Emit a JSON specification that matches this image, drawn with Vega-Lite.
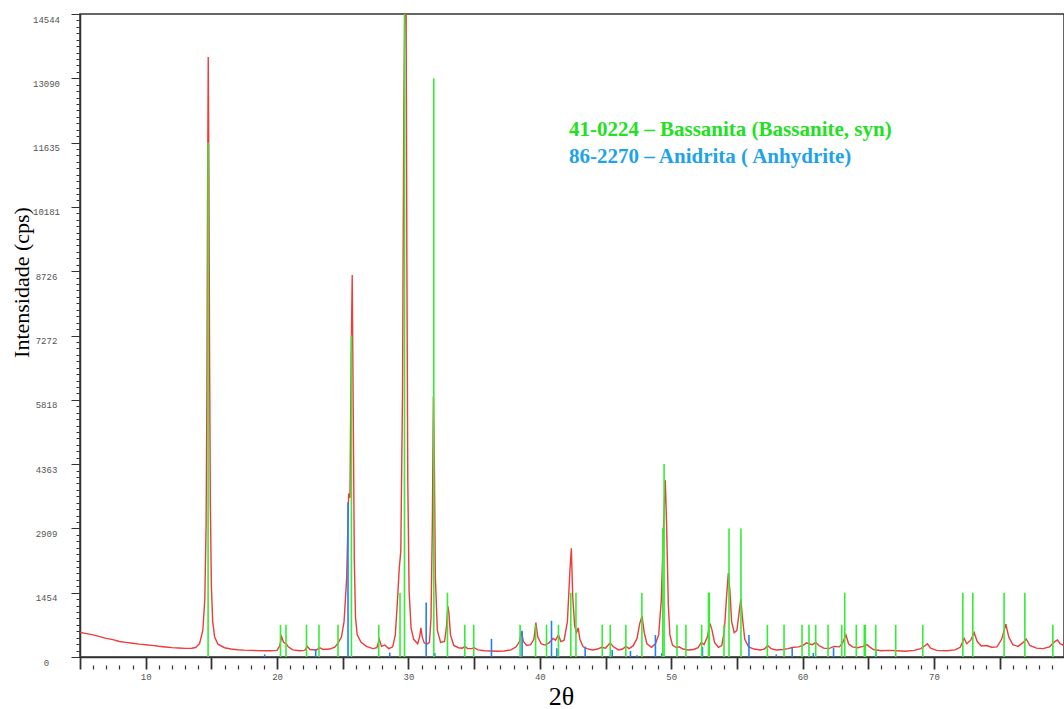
{
"$schema": "https://vega.github.io/schema/vega-lite/v6.json",
"width": 984, "height": 643,
"autosize": "none",
"padding": {"left": 80, "top": 14, "right": 0, "bottom": 52},
"background": "white",
"config": {"view": {"stroke": "#333", "strokeWidth": 1.5}, "axis": {"grid": false}},
"datasets": {
"xrd": [
{"theta":5.0,"cps":560},{"theta":5.3,"cps":540},{"theta":5.6,"cps":522},{"theta":6.0,"cps":500},{"theta":6.5,"cps":462},{"theta":7.0,"cps":420},{"theta":7.5,"cps":392},{"theta":8.0,"cps":352},{"theta":8.5,"cps":332},{"theta":9.0,"cps":312},{"theta":9.5,"cps":290},{"theta":10.0,"cps":276},{"theta":10.5,"cps":262},{"theta":11.0,"cps":242},{"theta":11.5,"cps":226},{"theta":12.0,"cps":212},{"theta":12.5,"cps":202},{"theta":13.0,"cps":195},{"theta":13.5,"cps":198},{"theta":13.8,"cps":215},{"theta":14.1,"cps":300},{"theta":14.35,"cps":600},{"theta":14.5,"cps":1300},{"theta":14.6,"cps":3000},{"theta":14.66,"cps":6000},{"theta":14.71,"cps":10500},{"theta":14.76,"cps":13570},{"theta":14.81,"cps":11000},{"theta":14.86,"cps":7000},{"theta":14.92,"cps":3500},{"theta":15.0,"cps":1600},{"theta":15.1,"cps":800},{"theta":15.25,"cps":450},{"theta":15.5,"cps":290},{"theta":16.0,"cps":210},{"theta":16.5,"cps":180},{"theta":17.0,"cps":165},{"theta":17.5,"cps":155},{"theta":18.0,"cps":150},{"theta":18.5,"cps":145},{"theta":19.0,"cps":140},{"theta":19.5,"cps":142},{"theta":20.0,"cps":150},{"theta":20.2,"cps":250},{"theta":20.35,"cps":460},{"theta":20.5,"cps":330},{"theta":20.7,"cps":300},{"theta":20.85,"cps":230},{"theta":21.2,"cps":160},{"theta":21.7,"cps":140},{"theta":22.1,"cps":150},{"theta":22.3,"cps":240},{"theta":22.5,"cps":170},{"theta":23.0,"cps":160},{"theta":23.25,"cps":210},{"theta":23.5,"cps":170},{"theta":24.0,"cps":180},{"theta":24.4,"cps":220},{"theta":24.65,"cps":320},{"theta":24.9,"cps":450},{"theta":25.1,"cps":800},{"theta":25.3,"cps":1800},{"theta":25.45,"cps":3700},{"theta":25.55,"cps":3600},{"theta":25.63,"cps":6500},{"theta":25.72,"cps":8640},{"theta":25.8,"cps":5500},{"theta":25.88,"cps":2200},{"theta":25.97,"cps":900},{"theta":26.1,"cps":500},{"theta":26.4,"cps":330},{"theta":26.8,"cps":240},{"theta":27.3,"cps":190},{"theta":27.6,"cps":210},{"theta":27.78,"cps":400},{"theta":27.95,"cps":240},{"theta":28.2,"cps":270},{"theta":28.5,"cps":190},{"theta":28.8,"cps":230},{"theta":29.0,"cps":500},{"theta":29.15,"cps":1200},{"theta":29.3,"cps":2000},{"theta":29.42,"cps":2400},{"theta":29.55,"cps":6000},{"theta":29.65,"cps":12500},{"theta":29.75,"cps":15500},{"theta":29.82,"cps":15000},{"theta":29.88,"cps":9000},{"theta":29.95,"cps":4000},{"theta":30.05,"cps":1500},{"theta":30.2,"cps":650},{"theta":30.4,"cps":400},{"theta":30.7,"cps":300},{"theta":30.85,"cps":450},{"theta":30.95,"cps":660},{"theta":31.05,"cps":450},{"theta":31.2,"cps":320},{"theta":31.4,"cps":290},{"theta":31.6,"cps":330},{"theta":31.72,"cps":900},{"theta":31.82,"cps":3000},{"theta":31.9,"cps":5900},{"theta":31.97,"cps":4500},{"theta":32.05,"cps":1800},{"theta":32.2,"cps":600},{"theta":32.45,"cps":330},{"theta":32.75,"cps":350},{"theta":32.9,"cps":700},{"theta":33.0,"cps":1150},{"theta":33.08,"cps":1000},{"theta":33.2,"cps":500},{"theta":33.45,"cps":260},{"theta":33.8,"cps":210},{"theta":34.1,"cps":200},{"theta":34.3,"cps":240},{"theta":34.5,"cps":190},{"theta":34.8,"cps":190},{"theta":35.0,"cps":210},{"theta":35.3,"cps":160},{"theta":35.8,"cps":140},{"theta":36.3,"cps":135},{"theta":36.8,"cps":130},{"theta":37.3,"cps":135},{"theta":37.8,"cps":160},{"theta":38.2,"cps":230},{"theta":38.45,"cps":350},{"theta":38.6,"cps":580},{"theta":38.75,"cps":350},{"theta":39.0,"cps":260},{"theta":39.3,"cps":280},{"theta":39.55,"cps":400},{"theta":39.7,"cps":780},{"theta":39.85,"cps":450},{"theta":40.1,"cps":300},{"theta":40.4,"cps":270},{"theta":40.7,"cps":320},{"theta":41.0,"cps":420},{"theta":41.2,"cps":380},{"theta":41.42,"cps":500},{"theta":41.6,"cps":350},{"theta":41.85,"cps":380},{"theta":42.1,"cps":800},{"theta":42.3,"cps":2000},{"theta":42.4,"cps":2460},{"theta":42.5,"cps":1400},{"theta":42.65,"cps":700},{"theta":42.8,"cps":550},{"theta":42.92,"cps":660},{"theta":43.05,"cps":400},{"theta":43.3,"cps":230},{"theta":43.6,"cps":190},{"theta":44.0,"cps":160},{"theta":44.4,"cps":180},{"theta":44.7,"cps":220},{"theta":45.0,"cps":200},{"theta":45.35,"cps":320},{"theta":45.6,"cps":230},{"theta":46.0,"cps":160},{"theta":46.3,"cps":180},{"theta":46.55,"cps":240},{"theta":46.8,"cps":190},{"theta":47.1,"cps":250},{"theta":47.4,"cps":420},{"theta":47.6,"cps":750},{"theta":47.78,"cps":930},{"theta":47.95,"cps":550},{"theta":48.15,"cps":300},{"theta":48.5,"cps":220},{"theta":48.8,"cps":300},{"theta":49.05,"cps":500},{"theta":49.25,"cps":1300},{"theta":49.4,"cps":2800},{"theta":49.55,"cps":4000},{"theta":49.65,"cps":3000},{"theta":49.78,"cps":1200},{"theta":49.9,"cps":500},{"theta":50.1,"cps":270},{"theta":50.4,"cps":210},{"theta":50.6,"cps":230},{"theta":50.9,"cps":180},{"theta":51.3,"cps":160},{"theta":51.7,"cps":170},{"theta":52.05,"cps":210},{"theta":52.3,"cps":330},{"theta":52.5,"cps":280},{"theta":52.75,"cps":450},{"theta":52.95,"cps":760},{"theta":53.1,"cps":620},{"theta":53.3,"cps":330},{"theta":53.6,"cps":220},{"theta":53.85,"cps":260},{"theta":54.05,"cps":600},{"theta":54.2,"cps":1300},{"theta":54.35,"cps":1900},{"theta":54.47,"cps":1500},{"theta":54.6,"cps":800},{"theta":54.8,"cps":550},{"theta":55.0,"cps":600},{"theta":55.15,"cps":950},{"theta":55.3,"cps":1310},{"theta":55.42,"cps":900},{"theta":55.6,"cps":400},{"theta":55.9,"cps":230},{"theta":56.3,"cps":180},{"theta":56.8,"cps":160},{"theta":57.1,"cps":180},{"theta":57.35,"cps":260},{"theta":57.6,"cps":190},{"theta":58.0,"cps":160},{"theta":58.5,"cps":170},{"theta":58.9,"cps":190},{"theta":59.3,"cps":220},{"theta":59.7,"cps":230},{"theta":60.0,"cps":260},{"theta":60.3,"cps":320},{"theta":60.5,"cps":300},{"theta":60.75,"cps":280},{"theta":61.0,"cps":330},{"theta":61.25,"cps":260},{"theta":61.6,"cps":200},{"theta":62.0,"cps":190},{"theta":62.4,"cps":240},{"theta":62.8,"cps":230},{"theta":63.05,"cps":320},{"theta":63.3,"cps":500},{"theta":63.5,"cps":300},{"theta":63.8,"cps":230},{"theta":64.2,"cps":210},{"theta":64.6,"cps":240},{"theta":64.89,"cps":280},{"theta":65.1,"cps":230},{"theta":65.4,"cps":170},{"theta":66.0,"cps":140},{"theta":66.6,"cps":150},{"theta":67.2,"cps":140},{"theta":67.8,"cps":130},{"theta":68.5,"cps":150},{"theta":69.0,"cps":190},{"theta":69.3,"cps":250},{"theta":69.5,"cps":300},{"theta":69.75,"cps":200},{"theta":70.2,"cps":150},{"theta":71.0,"cps":140},{"theta":71.6,"cps":160},{"theta":72.0,"cps":220},{"theta":72.3,"cps":420},{"theta":72.5,"cps":300},{"theta":72.8,"cps":380},{"theta":73.06,"cps":550},{"theta":73.3,"cps":350},{"theta":73.6,"cps":250},{"theta":74.0,"cps":260},{"theta":74.4,"cps":220},{"theta":74.8,"cps":230},{"theta":75.15,"cps":400},{"theta":75.47,"cps":740},{"theta":75.7,"cps":450},{"theta":76.0,"cps":280},{"theta":76.4,"cps":240},{"theta":76.8,"cps":330},{"theta":77.02,"cps":410},{"theta":77.3,"cps":260},{"theta":77.8,"cps":200},{"theta":78.3,"cps":190},{"theta":78.8,"cps":230},{"theta":79.2,"cps":350},{"theta":79.4,"cps":385},{"theta":79.6,"cps":300},{"theta":79.9,"cps":260}
],
"sticks": [
{"theta":19.06,"cps":60,"phase":"86-2270 – Anidrita ( Anhydrite)"},
{"theta":22.94,"cps":175,"phase":"86-2270 – Anidrita ( Anhydrite)"},
{"theta":25.40,"cps":3500,"phase":"86-2270 – Anidrita ( Anhydrite)"},
{"theta":28.58,"cps":100,"phase":"86-2270 – Anidrita ( Anhydrite)"},
{"theta":31.35,"cps":1230,"phase":"86-2270 – Anidrita ( Anhydrite)"},
{"theta":32.01,"cps":90,"phase":"86-2270 – Anidrita ( Anhydrite)"},
{"theta":36.32,"cps":410,"phase":"86-2270 – Anidrita ( Anhydrite)"},
{"theta":38.65,"cps":595,"phase":"86-2270 – Anidrita ( Anhydrite)"},
{"theta":40.89,"cps":820,"phase":"86-2270 – Anidrita ( Anhydrite)"},
{"theta":41.30,"cps":200,"phase":"86-2270 – Anidrita ( Anhydrite)"},
{"theta":43.45,"cps":233,"phase":"86-2270 – Anidrita ( Anhydrite)"},
{"theta":45.51,"cps":158,"phase":"86-2270 – Anidrita ( Anhydrite)"},
{"theta":46.90,"cps":135,"phase":"86-2270 – Anidrita ( Anhydrite)"},
{"theta":47.40,"cps":40,"phase":"86-2270 – Anidrita ( Anhydrite)"},
{"theta":48.80,"cps":497,"phase":"86-2270 – Anidrita ( Anhydrite)"},
{"theta":49.29,"cps":90,"phase":"86-2270 – Anidrita ( Anhydrite)"},
{"theta":52.38,"cps":225,"phase":"86-2270 – Anidrita ( Anhydrite)"},
{"theta":55.92,"cps":497,"phase":"86-2270 – Anidrita ( Anhydrite)"},
{"theta":58.00,"cps":60,"phase":"86-2270 – Anidrita ( Anhydrite)"},
{"theta":59.21,"cps":205,"phase":"86-2270 – Anidrita ( Anhydrite)"},
{"theta":60.82,"cps":90,"phase":"86-2270 – Anidrita ( Anhydrite)"},
{"theta":62.36,"cps":210,"phase":"86-2270 – Anidrita ( Anhydrite)"},
{"theta":65.58,"cps":140,"phase":"86-2270 – Anidrita ( Anhydrite)"},
{"theta":14.75,"cps":11635.2,"phase":"41-0224 – Bassanita (Bassanite, syn)"},
{"theta":20.26,"cps":727.2,"phase":"41-0224 – Bassanita (Bassanite, syn)"},
{"theta":20.68,"cps":727.2,"phase":"41-0224 – Bassanita (Bassanite, syn)"},
{"theta":22.24,"cps":727.2,"phase":"41-0224 – Bassanita (Bassanite, syn)"},
{"theta":23.19,"cps":727.2,"phase":"41-0224 – Bassanita (Bassanite, syn)"},
{"theta":24.64,"cps":727.2,"phase":"41-0224 – Bassanita (Bassanite, syn)"},
{"theta":25.66,"cps":7272,"phase":"41-0224 – Bassanita (Bassanite, syn)"},
{"theta":27.74,"cps":727.2,"phase":"41-0224 – Bassanita (Bassanite, syn)"},
{"theta":29.36,"cps":1454.4,"phase":"41-0224 – Bassanita (Bassanite, syn)"},
{"theta":29.70,"cps":14544,"phase":"41-0224 – Bassanita (Bassanite, syn)"},
{"theta":31.93,"cps":13089.6,"phase":"41-0224 – Bassanita (Bassanite, syn)"},
{"theta":32.97,"cps":1454.4,"phase":"41-0224 – Bassanita (Bassanite, syn)"},
{"theta":34.29,"cps":727.2,"phase":"41-0224 – Bassanita (Bassanite, syn)"},
{"theta":34.97,"cps":727.2,"phase":"41-0224 – Bassanita (Bassanite, syn)"},
{"theta":38.50,"cps":727.2,"phase":"41-0224 – Bassanita (Bassanite, syn)"},
{"theta":39.68,"cps":727.2,"phase":"41-0224 – Bassanita (Bassanite, syn)"},
{"theta":40.51,"cps":727.2,"phase":"41-0224 – Bassanita (Bassanite, syn)"},
{"theta":41.42,"cps":727.2,"phase":"41-0224 – Bassanita (Bassanite, syn)"},
{"theta":42.36,"cps":1454.4,"phase":"41-0224 – Bassanita (Bassanite, syn)"},
{"theta":42.75,"cps":1454.4,"phase":"41-0224 – Bassanita (Bassanite, syn)"},
{"theta":44.75,"cps":727.2,"phase":"41-0224 – Bassanita (Bassanite, syn)"},
{"theta":45.36,"cps":727.2,"phase":"41-0224 – Bassanita (Bassanite, syn)"},
{"theta":46.55,"cps":727.2,"phase":"41-0224 – Bassanita (Bassanite, syn)"},
{"theta":47.77,"cps":1454.4,"phase":"41-0224 – Bassanita (Bassanite, syn)"},
{"theta":49.36,"cps":2908.8,"phase":"41-0224 – Bassanita (Bassanite, syn)"},
{"theta":49.46,"cps":4363.2,"phase":"41-0224 – Bassanita (Bassanite, syn)"},
{"theta":50.44,"cps":727.2,"phase":"41-0224 – Bassanita (Bassanite, syn)"},
{"theta":51.12,"cps":727.2,"phase":"41-0224 – Bassanita (Bassanite, syn)"},
{"theta":52.32,"cps":727.2,"phase":"41-0224 – Bassanita (Bassanite, syn)"},
{"theta":52.84,"cps":1454.4,"phase":"41-0224 – Bassanita (Bassanite, syn)"},
{"theta":52.90,"cps":1454.4,"phase":"41-0224 – Bassanita (Bassanite, syn)"},
{"theta":54.02,"cps":727.2,"phase":"41-0224 – Bassanita (Bassanite, syn)"},
{"theta":54.40,"cps":2908.8,"phase":"41-0224 – Bassanita (Bassanite, syn)"},
{"theta":55.31,"cps":2908.8,"phase":"41-0224 – Bassanita (Bassanite, syn)"},
{"theta":57.32,"cps":727.2,"phase":"41-0224 – Bassanita (Bassanite, syn)"},
{"theta":58.59,"cps":727.2,"phase":"41-0224 – Bassanita (Bassanite, syn)"},
{"theta":59.96,"cps":727.2,"phase":"41-0224 – Bassanita (Bassanite, syn)"},
{"theta":60.49,"cps":727.2,"phase":"41-0224 – Bassanita (Bassanite, syn)"},
{"theta":61.00,"cps":727.2,"phase":"41-0224 – Bassanita (Bassanite, syn)"},
{"theta":61.94,"cps":727.2,"phase":"41-0224 – Bassanita (Bassanite, syn)"},
{"theta":62.98,"cps":727.2,"phase":"41-0224 – Bassanita (Bassanite, syn)"},
{"theta":63.21,"cps":1454.4,"phase":"41-0224 – Bassanita (Bassanite, syn)"},
{"theta":64.09,"cps":727.2,"phase":"41-0224 – Bassanita (Bassanite, syn)"},
{"theta":64.70,"cps":727.2,"phase":"41-0224 – Bassanita (Bassanite, syn)"},
{"theta":64.78,"cps":727.2,"phase":"41-0224 – Bassanita (Bassanite, syn)"},
{"theta":65.57,"cps":727.2,"phase":"41-0224 – Bassanita (Bassanite, syn)"},
{"theta":67.09,"cps":727.2,"phase":"41-0224 – Bassanita (Bassanite, syn)"},
{"theta":69.15,"cps":727.2,"phase":"41-0224 – Bassanita (Bassanite, syn)"},
{"theta":72.20,"cps":1454.4,"phase":"41-0224 – Bassanita (Bassanite, syn)"},
{"theta":72.96,"cps":1454.4,"phase":"41-0224 – Bassanita (Bassanite, syn)"},
{"theta":75.34,"cps":1454.4,"phase":"41-0224 – Bassanita (Bassanite, syn)"},
{"theta":76.92,"cps":1454.4,"phase":"41-0224 – Bassanita (Bassanite, syn)"},
{"theta":79.05,"cps":727.2,"phase":"41-0224 – Bassanita (Bassanite, syn)"}
]
},
"encoding": {
"x": {"field": "theta", "type": "quantitative",
 "scale": {"domain": [5, 79.9], "nice": false, "zero": false},
 "axis": {"title": "2θ", "titleFont": "Liberation Serif", "titleFontSize": 26, "titleFontWeight": "normal", "titleColor": "#000", "titleX": 481, "titleY": 47, "titleAlign": "center", "titleBaseline": "alphabetic",
  "values": [5,6,7,8,9,10,11,12,13,14,15,16,17,18,19,20,21,22,23,24,25,26,27,28,29,30,31,32,33,34,35,36,37,38,39,40,41,42,43,44,45,46,47,48,49,50,51,52,53,54,55,56,57,58,59,60,61,62,63,64,65,66,67,68,69,70,71,72,73,74,75,76,77,78,79,80],
  "labelExpr": "datum.value % 10 === 0 ? datum.label : ''",
  "labelFont": "Liberation Mono", "labelFontSize": 9, "labelColor": "#555", "labelPadding": 3, "labelOverlap": false, "labelFlush": false, "labelBound": false,
  "tickSize": 12, "tickColor": "#333", "domainColor": "#333", "domainWidth": 1.5,
  "tickDash": {"condition": {"test": "datum.value % 5 === 0", "value": [12, 0]}, "value": [0, 8, 4, 0]},
  "tickWidth": {"condition": {"test": "datum.value % 5 === 0", "value": 1.8}, "value": 1.2}
 }},
"y": {"field": "cps", "type": "quantitative",
 "scale": {"domain": [0, 14544], "nice": false},
 "axis": {"title": "Intensidade (cps)", "titleFont": "Liberation Serif", "titleFontSize": 22, "titleFontWeight": "normal", "titleColor": "#000", "titleX": -52, "titleY": 268, "titleAngle": -90, "titleAlign": "center", "titleBaseline": "alphabetic",
  "values": [0,145.44,290.88,436.32,581.76,727.2,872.64,1018.08,1163.52,1308.96,1454.4,1599.84,1745.28,1890.72,2036.16,2181.6,2327.04,2472.48,2617.92,2763.36,2908.8,3054.24,3199.68,3345.12,3490.56,3636,3781.44,3926.88,4072.32,4217.76,4363.2,4508.64,4654.08,4799.52,4944.96,5090.4,5235.84,5381.28,5526.72,5672.16,5817.6,5963.04,6108.48,6253.92,6399.36,6544.8,6690.24,6835.68,6981.12,7126.56,7272,7417.44,7562.88,7708.32,7853.76,7999.2,8144.64,8290.08,8435.52,8580.96,8726.4,8871.84,9017.28,9162.72,9308.16,9453.6,9599.04,9744.48,9889.92,10035.36,10180.8,10326.24,10471.68,10617.12,10762.56,10908,11053.44,11198.88,11344.32,11489.76,11635.2,11780.64,11926.08,12071.52,12216.96,12362.4,12507.84,12653.28,12798.72,12944.16,13089.6,13235.04,13380.48,13525.92,13671.36,13816.8,13962.24,14107.68,14253.12,14398.56,14544],
  "labelExpr": "round(datum.value / 145.44) % 10 === 0 ? format(datum.value, '.0f') : ''",
  "labelFont": "Liberation Mono", "labelFontSize": 9, "labelColor": "#555", "labelAlign": "center", "labelBaseline": "middle", "labelPadding": 25, "labelOffset": 5, "labelOverlap": false, "labelFlush": false, "labelBound": false,
  "tickSize": 9, "tickColor": "#333", "domainColor": "#333", "domainWidth": 1.5,
  "tickDash": {"condition": {"test": "round(datum.value / 145.44) % 10 === 0", "value": [9, 0]}, "value": [0, 1, 3, 9]}
 }}
},
"layer": [
{"data": {"name": "xrd"}, "mark": {"type": "line", "color": "#ee3b3b", "strokeWidth": 1.4, "clip": true}},
{"data": {"name": "sticks"}, "mark": {"type": "rule", "strokeWidth": 1.6, "clip": true},
 "encoding": {
  "y2": {"datum": 0},
  "color": {"field": "phase", "type": "nominal",
   "scale": {"domain": ["41-0224 – Bassanita (Bassanite, syn)", "86-2270 – Anidrita ( Anhydrite)"], "range": ["#33ee33", "#1f80ff"]},
   "legend": {"orient": "none", "legendX": 468, "legendY": 105, "title": null, "symbolOpacity": 0, "symbolSize": 0, "symbolStrokeWidth": 0, "labelOffset": 0, "labelFont": "Liberation Serif", "labelFontSize": 21, "labelFontWeight": "bold", "labelLimit": 600, "rowPadding": 5, "padding": 0,
    "encode": {"labels": {"update": {"fill": {"signal": "datum.index === 0 ? '#22e022' : '#1ea3ea'"}}}}}
  }}
}
]
}
